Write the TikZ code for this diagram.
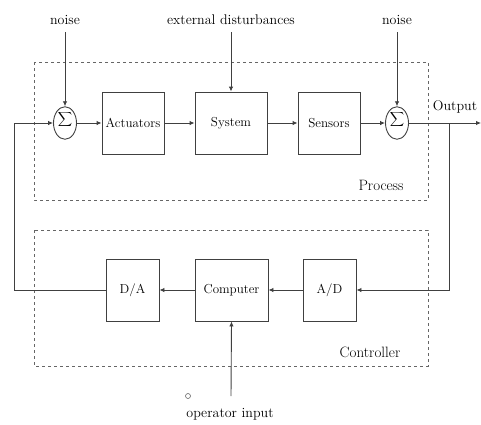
\documentclass[tikz,border=0pt]{standalone}
\usetikzlibrary{arrows.meta,shapes.geometric}
\begin{document}
\begin{tikzpicture}[x=1pt,y=-1pt,
  line/.style={draw=black!75, line width=0.9pt},
  arr/.style={line, -{Latex[length=5pt,width=4.5pt]}},
  blockbox/.style={draw=black!75, line width=0.9pt, inner sep=0pt, minimum height=62pt, font=\fontsize{13}{15}\selectfont},
  sumnode/.style={ellipse, draw=black!75, line width=0.9pt, minimum width=23pt, minimum height=31pt, inner sep=0pt},
  lbl/.style={font=\fontsize{14}{16}\selectfont, inner sep=1pt},
  dashbox/.style={draw=black!60, line width=0.9pt, dash pattern=on 3pt off 3pt}]
\useasboundingbox (0,0) rectangle (481,424);
% dashed groups
\draw[dashbox] (34,62) rectangle (428,200);
\draw[dashbox] (34,230) rectangle (428,366);
% top row
\node[sumnode] (sum1) at (65,123) {$\displaystyle\sum_{\,}$};
\node[blockbox, minimum width=62pt] (act) at (133,123) {Actuators};
\node[blockbox, minimum width=72pt] (sys) at (231,123) {System};
\node[blockbox, minimum width=62pt] (sen) at (329,123) {Sensors};
\node[sumnode] (sum2) at (397,123) {$\displaystyle\sum_{\,}$};
% bottom row
\node[blockbox, minimum width=53pt] (da) at (132.5,290) {D/A};
\node[blockbox, minimum width=73pt] (comp) at (231.5,290) {Computer};
\node[blockbox, minimum width=53pt] (ad) at (329.5,290) {A/D};
% labels
\node[lbl] (noise1) at (65,20) {noise};
\node[lbl] (ext) at (231,20) {external disturbances};
\node[lbl] (noise2) at (397,20) {noise};
\node[lbl] (out) at (455,107) {Output};
\node[lbl, font=\fontsize{15}{17}\selectfont] (proc) at (381,185) {Process};
\node[lbl, font=\fontsize{15}{17}\selectfont] (ctrl) at (370,352) {Controller};
\node[lbl] (op) at (230,414) {operator input};
\node[circle, draw=black!60, line width=0.6pt, minimum size=5pt, inner sep=0pt] (opsym) at (188,396) {};
% coordinates
\coordinate (outR) at (481,123);
\coordinate (fbA) at (449,123);
\coordinate (fbB) at (449,290);
\coordinate (lA) at (14,290);
\coordinate (lB) at (14,123);
\coordinate (opS) at (231,396);
\coordinate (n1) at (65,32);
\coordinate (n2) at (397,32);
\coordinate (e1) at (231,32);
% connectors
\draw[arr] (n1) -- (sum1.north);
\draw[arr] (n2) -- (sum2.north);
\draw[arr] (e1) -- (sys.north);
\draw[arr] (lB) -- (sum1.west);
\draw[arr] (sum1.east) -- (act.west);
\draw[arr] (act.east) -- (sys.west);
\draw[arr] (sys.east) -- (sen.west);
\draw[arr] (sen.east) -- (sum2.west);
\draw[arr] (sum2.east) -- (outR);
\draw[arr] (fbA) -- (fbB) -- (ad.east);
\draw[arr] (ad.west) -- (comp.east);
\draw[arr] (comp.west) -- (da.east);
\draw[line] (da.west) -- (lA) -- (lB);
\draw[arr] (opS) -- (comp.south);
\end{tikzpicture}
\end{document}
